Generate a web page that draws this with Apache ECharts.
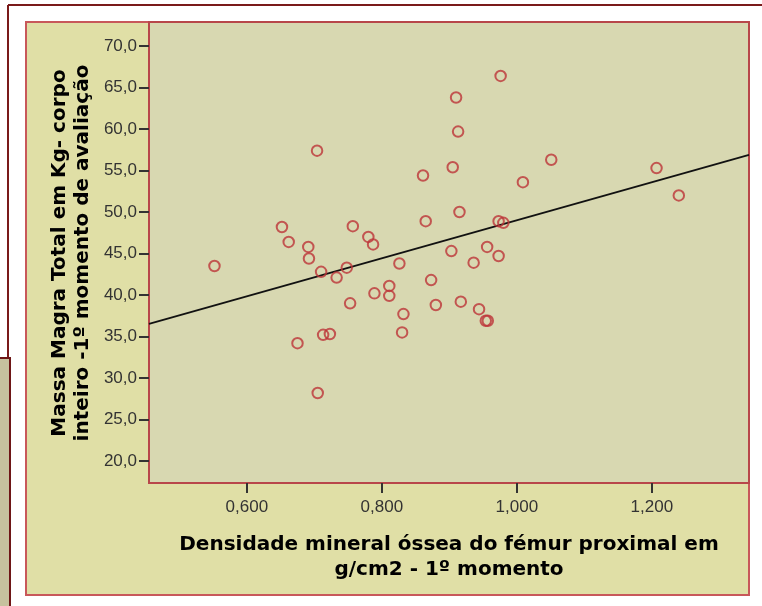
<!DOCTYPE html>
<html>
<head>
<meta charset="utf-8">
<script src="https://cdn.jsdelivr.net/npm/echarts@6/dist/echarts.min.js"></script>
<style>
  html, body { margin: 0; padding: 0; background: #fff; }
  #chart { width: 762px; height: 606px; }
</style>
</head>
<body>
<div id="chart"></div>
<script>
// densidade mineral (g/cm2) vs massa magra (kg)
const densidade = [
  0.552, 0.652, 0.662, 0.691, 0.692, 0.704, 0.710, 0.733, 0.748, 0.757,
  0.780, 0.787, 0.789, 0.753, 0.675, 0.713, 0.723, 0.705, 0.811, 0.811,
  0.826, 0.832, 0.830, 0.861, 0.865, 0.873, 0.880, 0.903, 0.905, 0.910,
  0.913, 0.915, 0.917, 0.936, 0.944, 0.954, 0.957, 0.956, 0.973, 0.980,
  0.973, 0.976, 1.009, 1.051, 1.207, 1.240
]
const massaMagra = [
  43.5, 48.2, 46.4, 45.8, 44.4, 57.4, 42.8, 42.1, 43.3, 48.3,
  47.0, 46.1, 40.2, 39.0, 34.2, 35.2, 35.3, 28.2, 41.1, 39.9,
  43.8, 37.7, 35.5, 54.4, 48.9, 41.8, 38.8, 45.3, 55.4, 63.8,
  59.7, 50.0, 39.2, 43.9, 38.3, 36.9, 36.9, 45.8, 48.9, 48.7,
  44.7, 66.4, 53.6, 56.3, 55.3, 52.0
]
const xTicks = [0.6, 0.8, 1.0, 1.2]
const yTicks = [20, 25, 30, 35, 40, 45, 50, 55, 60, 65, 70]
// linha de ajuste (reta de regressão)
const fitIntercept = 26.1
const fitSlope = 22.9

const xMin = 0.455, xMax = 1.344
const yMin = 17.35, yMax = 72.9

const points = densidade.map((d, i) => [d, massaMagra[i]])
const fitLine = [xMin, xMax].map(x => [x, fitIntercept + fitSlope * x])

const chart = echarts.init(document.getElementById('chart'))

const titleFont = { fontFamily: 'DejaVu Sans', fontWeight: 'bold', fontSize: 20, fill: '#000' }

chart.setOption({
  animation: false,
  backgroundColor: '#ffffff',
  graphic: [
    // moldura da página
    { type: 'line', z: -20, shape: { x1: 8, y1: 5, x2: 780, y2: 5 }, style: { stroke: '#7a1a1a', lineWidth: 2 } },
    { type: 'line', z: -20, shape: { x1: 8, y1: 5, x2: 8, y2: 358 }, style: { stroke: '#7a1a1a', lineWidth: 2 } },
    { type: 'rect', z: -20, shape: { x: -4, y: 358, width: 14, height: 260 },
      style: { fill: '#c6c29e', stroke: '#6e1616', lineWidth: 2 } },
    // painel do gráfico
    { type: 'rect', z: -10, shape: { x: 26, y: 22, width: 723, height: 573 },
      style: { fill: '#e0dfa6', stroke: '#c8585a', lineWidth: 2 } },
    // títulos dos eixos
    { type: 'text', z: 10, x: 60, y: 253, rotation: Math.PI / 2,
      style: Object.assign({ text: 'Massa Magra Total em Kg- corpo', align: 'center', verticalAlign: 'middle' }, titleFont) },
    { type: 'text', z: 10, x: 83, y: 253, rotation: Math.PI / 2,
      style: Object.assign({ text: 'inteiro -1º momento de avaliação', align: 'center', verticalAlign: 'middle' }, titleFont) },
    { type: 'text', z: 10, x: 449, y: 545,
      style: Object.assign({ text: 'Densidade mineral óssea do fémur proximal em', align: 'center', verticalAlign: 'middle' }, titleFont) },
    { type: 'text', z: 10, x: 449, y: 570,
      style: Object.assign({ text: 'g/cm2 - 1º momento', align: 'center', verticalAlign: 'middle' }, titleFont) }
  ],
  grid: {
    left: 149, right: 13, top: 22, bottom: 123,
    show: true,
    backgroundColor: '#d8d8b1',
    borderColor: '#b8474a',
    borderWidth: 2
  },
  xAxis: {
    type: 'value',
    min: xMin, max: xMax,
    axisLine: { show: false },
    splitLine: { show: false },
    axisTick: { show: true, length: 10, customValues: xTicks, lineStyle: { color: '#333', width: 2 } },
    axisLabel: {
      customValues: xTicks,
      margin: 16,
      color: '#333',
      fontFamily: 'Liberation Sans',
      fontSize: 17,
      formatter: v => v.toFixed(3).replace('.', ',')
    }
  },
  yAxis: {
    type: 'value',
    min: yMin, max: yMax,
    axisLine: { show: false },
    splitLine: { show: false },
    axisTick: { show: true, length: 10, customValues: yTicks, lineStyle: { color: '#333', width: 2 } },
    axisLabel: {
      customValues: yTicks,
      margin: 12,
      color: '#333',
      fontFamily: 'Liberation Sans',
      fontSize: 17,
      formatter: v => v.toFixed(1).replace('.', ',')
    }
  },
  series: [
    {
      type: 'line',
      data: fitLine,
      symbol: 'none',
      lineStyle: { color: '#111', width: 1.8 },
      z: 3
    },
    {
      type: 'scatter',
      data: points,
      symbol: 'circle',
      symbolSize: 10.5,
      itemStyle: { color: 'rgba(0,0,0,0)', borderColor: '#bd3538', borderWidth: 2 },
      z: 4
    }
  ]
})
</script>
</body>
</html>
